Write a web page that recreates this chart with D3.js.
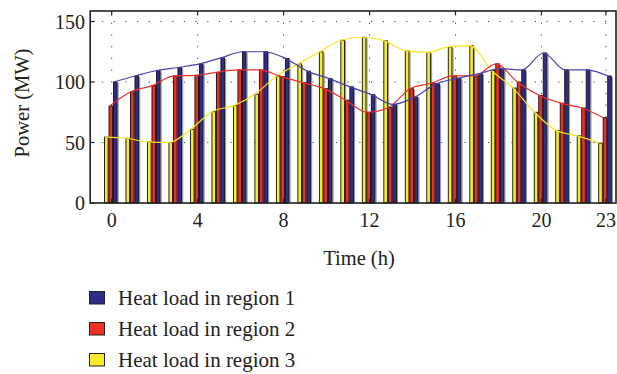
<!DOCTYPE html>
<html><head><meta charset="utf-8">
<script src="https://cdn.jsdelivr.net/npm/d3@7"></script>
<style>body{margin:0;background:#fff}svg{display:block}</style>
</head><body><svg id="c" width="617" height="374"></svg>
<script>
const hours = d3.range(0, 24);
const region1 = [100,105,109.5,112,115,120,125,125,119.5,109,103,96,89.5,81.5,87.5,98.5,103,107,111,110,124,110,110,105];
const region2 = [80,92,97,105,105.5,108,110,110,104.5,99.5,94.5,85,75,79,94.5,99,105,105,115,100,89,82.5,78.5,70.5];
const region3 = [54.5,53.5,50.5,50,61,75.5,80.5,90,105,115,125,134.5,137,134,126,124.5,129,130,109.5,95,75,60,55.5,49.5];
const xTicks = [0,4,8,12,16,20,23];
const yTicks = [0,50,100,150];
const seriesNames = ["Heat load in region 1","Heat load in region 2","Heat load in region 3"];

const barColors = {r1:"#302c8c", r2:"#ee2f24", r3:"#f7ec2b"};
const lineColors = {r1:"#4642b0", r2:"#f0302a", r3:"#f5e61f"};

const svg = d3.select("#c");
const L = 90.2, R = 616, T = 11, B = 203;
const x = d3.scaleLinear().domain([-1, 23.47]).range([L, R]);
const y = d3.scaleLinear().domain([0, 158.7]).range([B, T]);
const FONT = "'Liberation Serif', 'DejaVu Serif', serif";

// grid
const g = svg.append("g");
g.selectAll(".gy").data(yTicks.filter(d=>d>0)).join("line")
  .attr("x1", L).attr("x2", R).attr("y1", d=>y(d)).attr("y2", d=>y(d))
  .attr("stroke", "#444").attr("stroke-width", 1).attr("stroke-dasharray", "1.2,10.5");
g.selectAll(".gx").data(xTicks).join("line")
  .attr("x1", d=>x(d)).attr("x2", d=>x(d)).attr("y1", T).attr("y2", B)
  .attr("stroke", "#444").attr("stroke-width", 1).attr("stroke-dasharray", "1.2,10.5");

// bars
const series = [
  {key:"r3", vals:region3, i:0},
  {key:"r2", vals:region2, i:1},
  {key:"r1", vals:region1, i:2}
];
const bw = 3.6, slot = 4.5, off0 = -7.2;
series.forEach(s => {
  const gs = svg.append("g");
  gs.selectAll(".sh").data(hours).join("rect")
    .attr("x", h => x(h) + off0 + s.i*slot + bw + 0.4)
    .attr("y", h => y(s.vals[h]) + 1)
    .attr("width", 1.3)
    .attr("height", h => B - y(s.vals[h]) - 1)
    .attr("fill", "#9a9a9a");
  gs.selectAll(".b").data(hours).join("rect")
    .attr("x", h => x(h) + off0 + s.i*slot)
    .attr("y", h => y(s.vals[h]))
    .attr("width", bw)
    .attr("height", h => B - y(s.vals[h]))
    .attr("fill", barColors[s.key])
    .attr("stroke", "#111").attr("stroke-width", 0.9);
});

// lines
series.forEach(s => {
  const line = d3.line()
    .x(h => x(h) + off0 + s.i*slot + 0.3)
    .y(h => y(s.vals[h]))
    .curve(d3.curveMonotoneX);
  svg.append("path").datum(hours).attr("d", line)
    .attr("fill", "none").attr("stroke", lineColors[s.key]).attr("stroke-width", 1.2);
});

// frame
svg.append("rect").attr("x", L).attr("y", T).attr("width", R - L).attr("height", B - T)
  .attr("fill", "none").attr("stroke", "#222").attr("stroke-width", 1.6);

// ticks inward
svg.append("g").selectAll("line").data(xTicks).join("line")
  .attr("x1", d=>x(d)).attr("x2", d=>x(d)).attr("y1", T).attr("y2", T+4.5)
  .attr("stroke", "#222").attr("stroke-width", 1.2);
svg.append("g").selectAll("line").data(xTicks).join("line")
  .attr("x1", d=>x(d)).attr("x2", d=>x(d)).attr("y1", B).attr("y2", B-4.5)
  .attr("stroke", "#222").attr("stroke-width", 1.2);
svg.append("g").selectAll("line").data(yTicks).join("line")
  .attr("x1", L).attr("x2", L+4.5).attr("y1", d=>y(d)).attr("y2", d=>y(d))
  .attr("stroke", "#222").attr("stroke-width", 1.2);

// tick labels
svg.append("g").selectAll("text").data(xTicks).join("text")
  .attr("x", d=>x(d)).attr("y", 227).attr("text-anchor", "middle")
  .attr("font-family", FONT).attr("font-size", 20).attr("fill", "#222")
  .text(d=>d);
svg.append("g").selectAll("text").data(yTicks).join("text")
  .attr("x", 85).attr("y", d=>y(d)+7).attr("text-anchor", "end")
  .attr("font-family", FONT).attr("font-size", 20).attr("fill", "#222")
  .text(d=>d);

// axis titles
svg.append("text").attr("x", 359).attr("y", 265).attr("text-anchor", "middle")
  .attr("font-family", FONT).attr("font-size", 20.5).attr("fill", "#222").text("Time (h)");
svg.append("text").attr("transform", "translate(29,103) rotate(-90)").attr("text-anchor", "middle")
  .attr("font-family", FONT).attr("font-size", 20.5).attr("fill", "#222").text("Power (MW)");

// legend
const legKeys = ["r1","r2","r3"];
const lg = svg.append("g");
legKeys.forEach((k, i) => {
  const yy = 291.5 + i*31;
  lg.append("rect").attr("x", 89.5).attr("y", yy).attr("width", 15).attr("height", 12.5)
    .attr("fill", barColors[k]).attr("stroke", "#222").attr("stroke-width", 1);
  lg.append("text").attr("x", 118).attr("y", yy + 13.5).attr("font-family", FONT)
    .attr("font-size", 21).attr("fill", "#222").text(seriesNames[i]);
});
</script></body></html>
